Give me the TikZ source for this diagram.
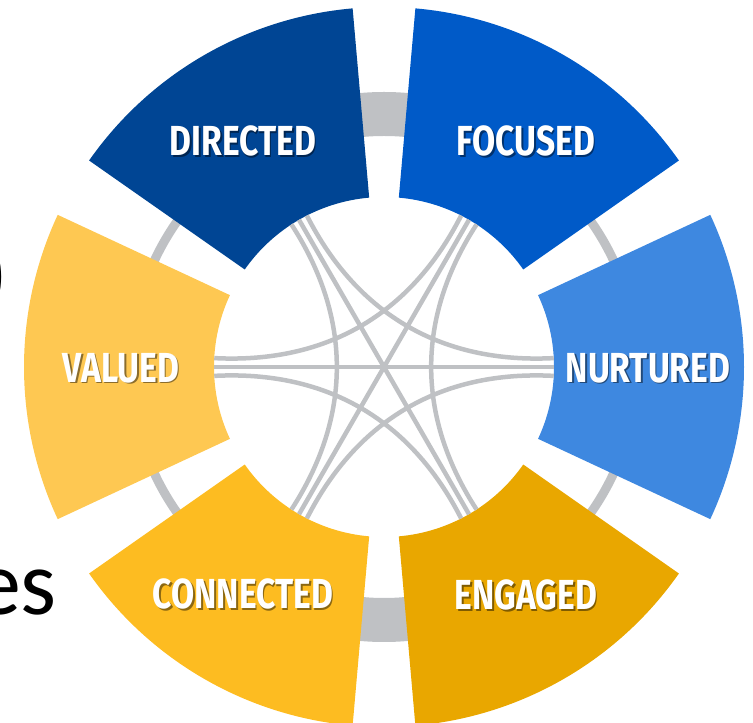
\documentclass[tikz,border=0pt]{standalone}
\usepackage{fontspec}
\newfontfamily\wordfont{Fira Sans}[FakeStretch=0.8]
\newfontfamily\slidefont{Carlito}

\definecolor{ringgray}{HTML}{BFC1C4}
\definecolor{dirblue}{HTML}{004594}
\definecolor{focblue}{HTML}{005AC8}
\definecolor{nurblue}{HTML}{3E88E0}
\definecolor{enggold}{HTML}{E9A700}
\definecolor{congold}{HTML}{FDBC21}
\definecolor{valgold}{HTML}{FEC852}

\tikzset{
  word/.style={font=\wordfont\bfseries\fontsize{42}{42}\selectfont,text=white,inner sep=0pt},
  wordshadow/.style={word,text=black,opacity=0.45},
  link/.style={draw=ringgray,line width=4.5pt},
  slidetext/.style={font=\slidefont\fontsize{92}{92}\selectfont,inner sep=0pt},
}

\begin{document}
\begin{tikzpicture}[x=1pt,y=1pt]
	\useasboundingbox (0,0) rectangle (753,723);
	%slide text behind the wheel
	\node[slidetext,anchor=base east] (paren) at (9,418) {)};
	\node[slidetext,anchor=base east] (suffix) at (57,108) {es};

	\begin{scope}[shift={(384,356)}]
	%gray ring
	\draw[ringgray,line width=9pt] (0,0) circle (253);
	\fill[ringgray] (80:231) arc (80:100:231) -- (100:275) arc (100:80:275) -- cycle; %top
	\fill[ringgray] (260:231) arc (260:280:231) -- (280:275) arc (280:260:275) -- cycle; %bottom

	%sectors
	\foreach \a/\c in {120/dirblue,60/focblue,0/nurblue,-60/enggold,-120/congold,180/valgold}
	  \fill[\c] (\a-25:170) arc (\a-25:\a+25:170) -- (\a+25:360) arc (\a+25:\a-25:360) -- cycle;

	%inner ends of the links
	\foreach \n/\a in {d/120,f/60,n/0,e/-60,c/-120,v/180} {
	  \coordinate (\n) at (\a:170);
	  \coordinate (\n-l) at (\a+3:170);
	  \coordinate (\n-r) at (\a-3:170);
	}

	%straight links
	\draw[link] (v) -- (n);
	\draw[link] (d) -- (e);
	\draw[link] (f) -- (c);
	%curved links
	\draw[link] (v-r) to[bend right=33] (f-l);
	\draw[link] (d-r) to[bend right=33] (n-l);
	\draw[link] (f-r) to[bend right=33] (e-l);
	\draw[link] (n-r) to[bend right=33] (c-l);
	\draw[link] (e-r) to[bend right=33] (v-l);
	\draw[link] (c-r) to[bend right=33] (d-l);
	\end{scope}

	%labels
	\node[wordshadow] (directed-sh) at (244.5,580.5) {DIRECTED};
	\node[word] (directed) at (243,582) {DIRECTED};
	\node[wordshadow] (focused-sh) at (527.5,580.5) {FOCUSED};
	\node[word] (focused) at (526,582) {FOCUSED};
	\node[wordshadow] (nurtured-sh) at (649.5,353.5) {NURTURED};
	\node[word] (nurtured) at (648,355) {NURTURED};
	\node[wordshadow] (valued-sh) at (122.5,353.5) {VALUED};
	\node[word] (valued) at (121,355) {VALUED};
	\node[wordshadow] (connected-sh) at (244.5,127.5) {CONNECTED};
	\node[word] (connected) at (243,129) {CONNECTED};
	\node[wordshadow] (engaged-sh) at (527.5,126.5) {ENGAGED};
	\node[word] (engaged) at (526,128) {ENGAGED};
\end{tikzpicture}
\end{document}
